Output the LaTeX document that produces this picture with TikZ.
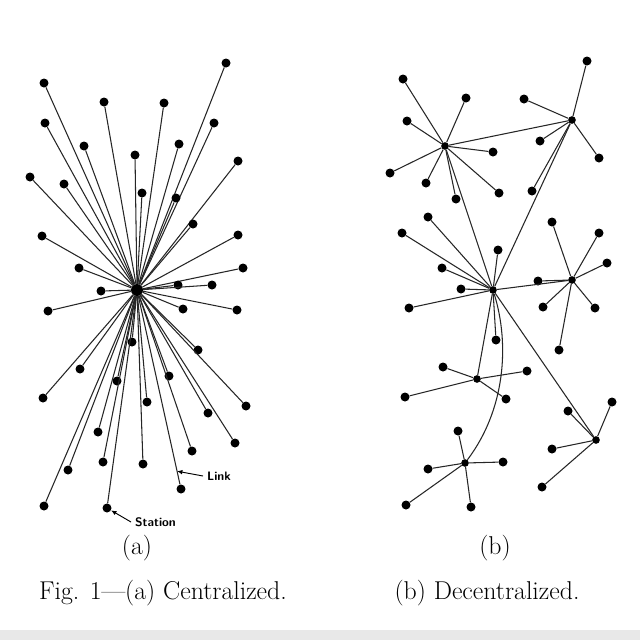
\documentclass[tikz,border=0pt]{standalone}
\usetikzlibrary{arrows.meta,positioning}
\tikzset{
  station/.style={circle, fill=black, inner sep=0pt, minimum size=2.7mm},
  hub/.style={circle, fill=black, inner sep=0pt, minimum size=2.3mm},
  centrehub/.style={circle, fill=black, inner sep=0pt, minimum size=3.6mm},
  link/.style={line width=0.9pt, black!85},
  callout/.style={-{Latex[length=1.6mm,width=1.4mm]}, line width=0.8pt},
  tag/.style={font=\sffamily\bfseries\fontsize{10.5}{12}\selectfont},
  caption/.style={font=\fontsize{22}{26}\selectfont},
}
\begin{document}
\begin{tikzpicture}[x=0.03cm, y=-0.03cm]
  \useasboundingbox (0,0) rectangle (640,640);
  \fill[white] (0,0) rectangle (640,640);
  \fill[black!9] (0,630) rectangle (640,640);

  % (a) centralized
  \node[centrehub] (centre) at (137,290) {};
  \foreach \p [count=\i] in {(44,83),(226,63),(104,102),(164,103),(45,123),(214,123),
      (84,146),(179,144),(135,155),(238,161),(30,177),(64,184),(142,193),(176,198),
      (193,224),(42,236),(238,235),(79,268),(243,268),(178,285),(212,285),(101,291),
      (48,311),(183,309),(237,310),(132,342),(198,350),(80,369),(117,381),(169,376),
      (43,398),(147,402),(246,406),(208,413),(98,432),(235,443),(192,451),(103,462),
      (143,464),(68,470),(44,506)} {
    \node[station] (a\i) at \p {};
    \draw[link] (centre) -- (a\i);
  }
  \node[station] (stn) at (107,508) {};
  \draw[link] (centre) -- (stn);
  \node[station] (lnk) at (181,489) {};
  \draw[link] (centre) -- coordinate[pos=0.93] (linkpt) (lnk);

  % callouts
  \node[tag, anchor=west] (linktag) at (203,476) {Link};
  \draw[callout] (linktag.west) -- (linkpt);
  \node[tag, anchor=west] (stntag) at (131,522) {Station};
  \draw[callout] (stntag.west) -- (stn);

  % (b) decentralized
  \node[hub] (hubA) at (445,146) {};
  \node[hub] (hubB) at (572,120) {};
  \node[hub] (hubC) at (572,280) {};
  \node[hub] (hubD) at (493,290) {};
  \node[hub] (hubE) at (477,379) {};
  \node[hub] (hubF) at (596,440) {};
  \node[hub] (hubG) at (465,463) {};
  \foreach \h/\pts in {
      A/{(403,79),(466,98),(407,121),(493,152),(390,173),(426,183),(456,199),(499,193)},
      B/{(587,61),(524,99),(540,141),(599,158),(532,191)},
      C/{(552,222),(599,233),(607,263),(538,281),(543,307),(595,308),(559,350)},
      D/{(428,217),(402,233),(498,250),(442,268),(461,289),(409,308),(496,340)},
      E/{(443,367),(527,371),(405,397),(506,399)},
      F/{(612,402),(568,411),(552,449),(542,487)},
      G/{(458,431),(503,462),(428,469),(406,505),(471,507)}} {
    \foreach \p [count=\i] in \pts {
      \node[station] (\h\i) at \p {};
      \draw[link] (hub\h) -- (\h\i);
    }
  }
  % trunks
  \draw[link] (hubA) -- (hubB);
  \draw[link] (hubA) -- (hubD);
  \draw[link] (hubB) -- (hubD);
  \draw[link] (hubD) -- (hubC);
  \draw[link] (hubD) -- (hubE);
  \draw[link] (hubD) -- (hubF);
  \draw[link] (hubD) .. controls (510,345) and (505,410) .. (hubG);

  % captions
  \node[caption] (suba) at (137,548) {(a)};
  \node[caption] (subb) at (495,548) {(b)};
  \node[caption] (capa) at (163,593) {Fig. 1---(a) Centralized.};
  \node[caption] (capb) at (487,593) {(b) Decentralized.};
\end{tikzpicture}
\end{document}
